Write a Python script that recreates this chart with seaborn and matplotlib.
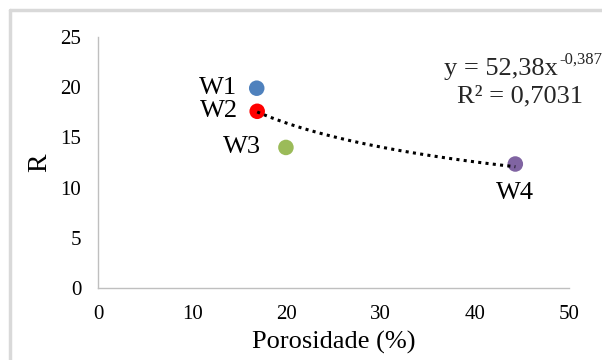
import matplotlib
matplotlib.use("Agg")
import matplotlib.pyplot as plt
import seaborn as sns
import numpy as np
import pandas as pd
from matplotlib.lines import Line2D

# Data
samples = ["W1", "W2", "W3", "W4"]
porosity = [16.85, 16.9, 19.95, 44.3]
r_values = [19.9, 17.6, 14.0, 12.35]
colors = ["#4F81BD", "#FF0000", "#9BBB59", "#8064A2"]
coef_a = 52.38
coef_b = -0.387
r2 = 0.7031
x_ticks = [0, 10, 20, 30, 40, 50]
y_ticks = [0, 5, 10, 15, 20, 25]

sns.set_theme(style="white")
plt.rcParams['font.family'] = ['Liberation Serif', 'DejaVu Serif']

df = pd.DataFrame({"Porosidade": porosity, "R": r_values, "Amostra": samples})

fig = plt.figure(figsize=(6.02, 3.6), dpi=100)
ax = fig.add_axes([98/602, 1-288/360, (569-98)/602, (288-37)/360])

# trendline (power fit from reported coefficients)
xs = np.linspace(min(porosity[1:]), max(porosity), 100)
ax.plot(xs, coef_a * xs ** coef_b, color="black", linestyle=(0, (1, 1.4)), linewidth=2.2, zorder=3)

sns.scatterplot(data=df, x="Porosidade", y="R", hue="Amostra", palette=colors,
                s=125, edgecolor="none", legend=False, ax=ax, zorder=2)

ax.set_xlim(0, 50)
ax.set_ylim(0, 25)
ax.set_xticks(x_ticks)
ax.set_yticks(y_ticks)
ax.tick_params(axis='both', length=0, labelsize=15, pad=12, colors='black')
for s in ["top", "right"]:
    ax.spines[s].set_visible(False)
for s in ["left", "bottom"]:
    ax.spines[s].set_color("#BFBFBF")
    ax.spines[s].set_linewidth(1.0)

ax.set_xlabel("Porosidade (%)", fontsize=19, labelpad=5, color='black')
ax.set_ylabel("R", fontsize=20, labelpad=6, color='black')

# point labels
offsets = {"W1": (-14, 0, 'right', 'center'),
           "W2": (-14, 0, 'right', 'center'),
           "W3": (-18, 0, 'right', 'center'),
           "W4": (0, -21, 'center', 'center')}
for name, x, y in zip(samples, porosity, r_values):
    dx, dy, ha, va = offsets[name]
    ax.annotate(name, (x, y), xytext=(dx, dy), textcoords='offset points',
                ha=ha, va=va, fontsize=19, color='black')

fig.text(558/602, 1-69/360, "y = 52,38x", ha='right', va='center', fontsize=19)
fig.text(559/602, 1-60/360, "-0,387", ha='left', va='center', fontsize=12)
fig.text(520/602, 1-96/360, "R² = 0,7031", ha='center', va='center', fontsize=19)

# outer frame (left and top)
fig.add_artist(Line2D([10/602, 10/602], [0, 1-10/360], transform=fig.transFigure, color="#D9D9D9", linewidth=2.5))
fig.add_artist(Line2D([10/602, 1], [1-10/360, 1-10/360], transform=fig.transFigure, color="#D9D9D9", linewidth=2.5))

fig.savefig("out.png", dpi=100)
